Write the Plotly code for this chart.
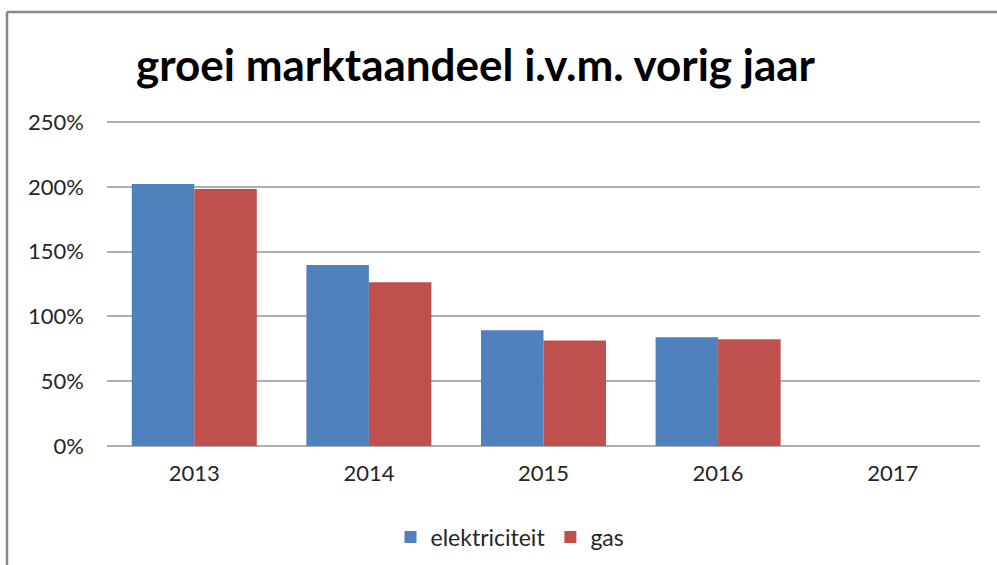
import plotly.graph_objects as go

years = ["2013", "2014", "2015", "2016", "2017"]
elektriciteit = [202.2, 139.7, 89.3, 84.0, None]
gas = [198.4, 126.3, 81.4, 82.3, None]
y_ticks = [0, 50, 100, 150, 200, 250]
y_tick_labels = ["0%", "50%", "100%", "150%", "200%", "250%"]

W, H = 997, 565
L, R, T, B = 107, 17, 121, 119
pw, ph = W - L - R, H - T - B
Y_MAX = 250.8

def px(x):
    return (x - L) / pw

def py(y):
    return (H - B - y) / ph

fig = go.Figure()
fig.add_trace(go.Bar(name="elektriciteit", x=years, y=elektriciteit,
                     marker=dict(color="#4F81BD", line=dict(width=0))))
fig.add_trace(go.Bar(name="gas", x=years, y=gas,
                     marker=dict(color="#C0504D", line=dict(width=0))))

font_family = "Lato, 'Open Sans', sans-serif"

fig.update_layout(
    width=W, height=H,
    margin=dict(l=L, r=R, t=T, b=B, autoexpand=False),
    paper_bgcolor="white", plot_bgcolor="white",
    barmode="group", bargap=0.284, bargroupgap=0,
    showlegend=True,
    legend=dict(orientation="h", x=px(510), y=py(537), xanchor="center", yanchor="middle",
                font=dict(family=font_family, size=23, color="#262626"),
                itemwidth=30, tracegroupgap=0),
    font=dict(family=font_family),
    xaxis=dict(showgrid=False, showline=False, ticks="", ticklabelstandoff=12,
               automargin=False,
               tickfont=dict(family=font_family, size=22, color="#262626")),
    yaxis=dict(range=[0, Y_MAX], tickvals=y_ticks, ticktext=y_tick_labels,
               showgrid=True, gridcolor="#AFAFAF", gridwidth=1.5,
               zeroline=True, zerolinecolor="#AFAFAF", zerolinewidth=1.5,
               showline=False, ticks="", ticklabelstandoff=22, automargin=False,
               tickfont=dict(family=font_family, size=22, color="#262626")),
    annotations=[dict(text="<b>groei marktaandeel i.v.m. vorig jaar</b>",
                      x=px(476), y=py(64), xref="paper", yref="paper",
                      xanchor="center", yanchor="middle", showarrow=False,
                      font=dict(family=font_family, size=44, color="black"))],
    shapes=[
        dict(type="line", xref="paper", yref="paper", x0=px(7), x1=px(1000),
             y0=py(12), y1=py(12), line=dict(color="#888888", width=2.5)),
        dict(type="line", xref="paper", yref="paper", x0=px(7), x1=px(7),
             y0=py(12), y1=py(570), line=dict(color="#888888", width=2.5)),
    ],
)

fig.write_html("out.html",
               config={"displayModeBar": False},
               post_script="document.body.style.margin='0';document.body.style.padding='0';")
